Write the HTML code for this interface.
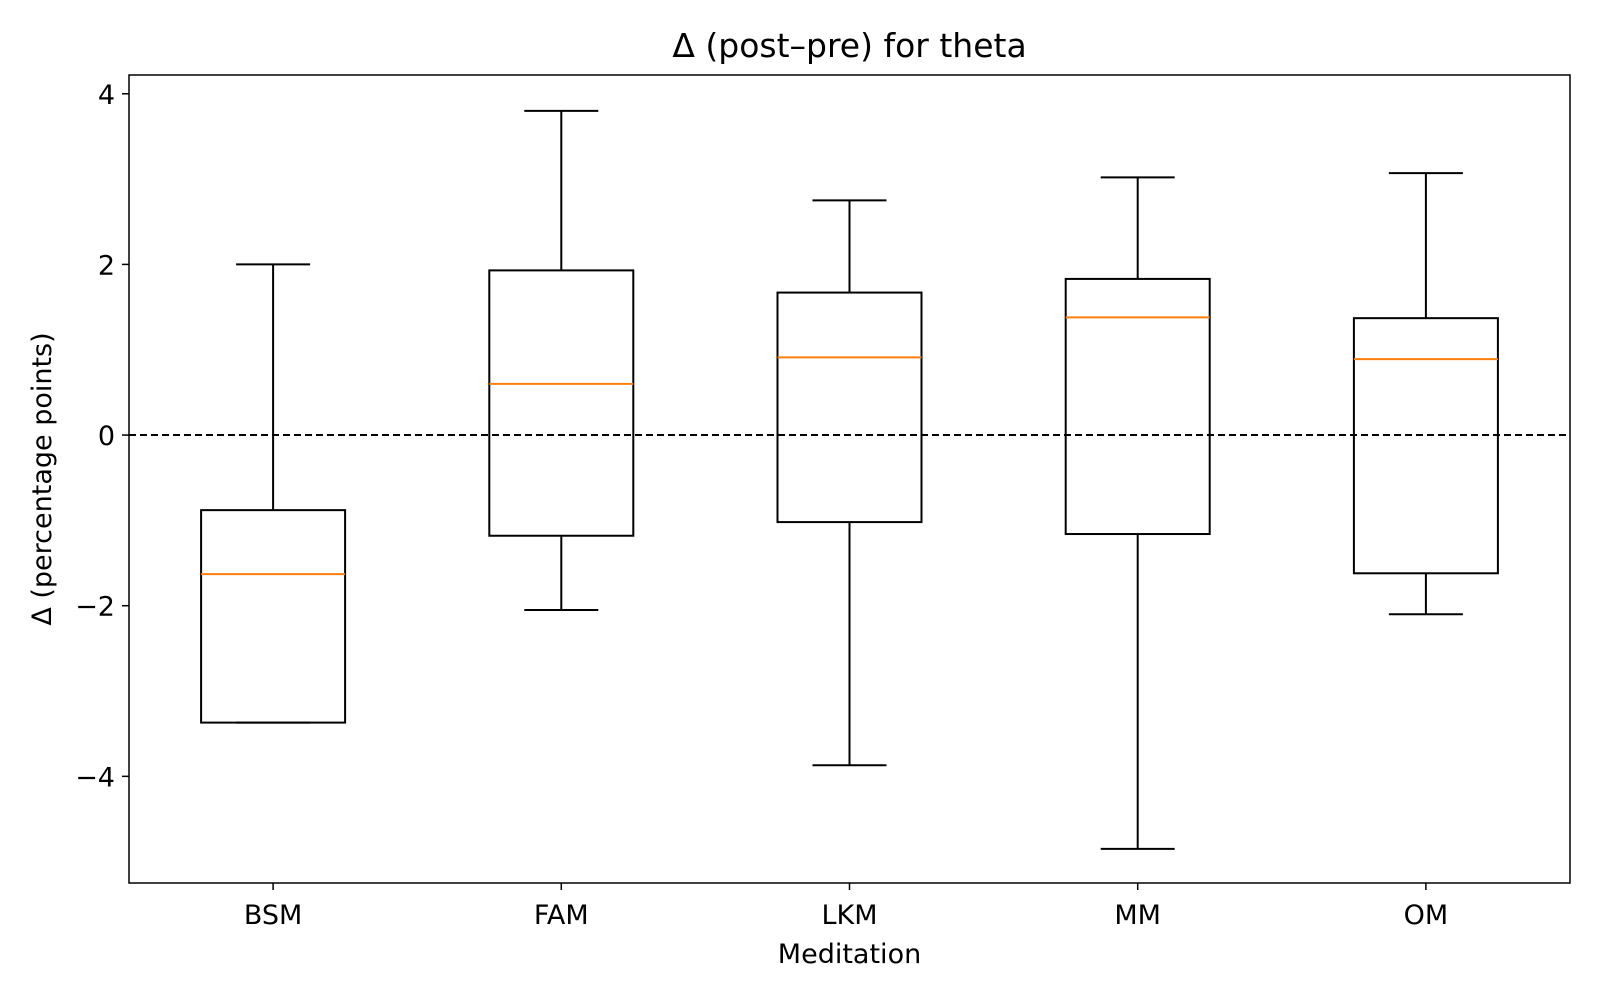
<!DOCTYPE html>
<html><head><meta charset="utf-8"><style>
body{margin:0;background:#fff;}
svg{display:block;font-family:"DejaVu Sans","Liberation Sans",sans-serif;}
</style></head><body>
<svg id="chart" width="1600" height="1000"></svg>
<script>
const categories=["BSM","FAM","LKM","MM","OM"];
const whiskerLow=[-3.37,-2.05,-3.87,-4.85,-2.1];
const q1Values=[-3.37,-1.18,-1.02,-1.16,-1.62];
const medianValues=[-1.63,0.6,0.91,1.38,0.89];
const q3Values=[-0.88,1.93,1.67,1.83,1.37];
const whiskerHigh=[2.0,3.8,2.75,3.02,3.07];
const yTicks=[-4,-2,0,2,4];
const yTickLabels=["\u22124","\u22122","0","2","4"];

const L=129,R=1570,T=75,B=883,yMin=-5.25,yMax=4.22;
const ns="http://www.w3.org/2000/svg";
const svg=document.getElementById('chart');
function y(v){return B-(v-yMin)/(yMax-yMin)*(B-T);}
function x(i){return L+(i+0.5)*(R-L)/categories.length;}
function el(t,a,txt){const e=document.createElementNS(ns,t);for(const k in a)e.setAttribute(k,a[k]);if(txt!==undefined)e.textContent=txt;svg.appendChild(e);return e;}
const bw=144,cw=74;
let z=el('line',{x1:L,x2:R,y1:y(0),y2:y(0),stroke:'#000','stroke-width':2,'stroke-dasharray':'7,4'});


categories.forEach((c,i)=>{
  const cx=x(i);
  const g=[];
  g.push(el('line',{x1:cx,x2:cx,y1:y(whiskerLow[i]),y2:y(q1Values[i]),stroke:'#000','stroke-width':2}));
  g.push(el('line',{x1:cx,x2:cx,y1:y(q3Values[i]),y2:y(whiskerHigh[i]),stroke:'#000','stroke-width':2}));
  g.push(el('line',{x1:cx-cw/2,x2:cx+cw/2,y1:y(whiskerLow[i]),y2:y(whiskerLow[i]),stroke:'#000','stroke-width':2}));
  g.push(el('line',{x1:cx-cw/2,x2:cx+cw/2,y1:y(whiskerHigh[i]),y2:y(whiskerHigh[i]),stroke:'#000','stroke-width':2}));
  const box=el('rect',{x:cx-bw/2,y:y(q3Values[i]),width:bw,height:y(q1Values[i])-y(q3Values[i]),fill:'none',stroke:'#000','stroke-width':2});
  
  
  const m=el('line',{x1:cx-bw/2,x2:cx+bw/2,y1:y(medianValues[i]),y2:y(medianValues[i]),stroke:'#ff7f0e','stroke-width':2});
  
  
  g.forEach(e=>{});
  el('line',{x1:cx,x2:cx,y1:B,y2:B+7,stroke:'#000','stroke-width':1.5});
  const t=el('text',{x:cx,y:B+41,'font-size':27,'text-anchor':'middle'},c);
  
  
});
yTicks.forEach((v,i)=>{
  el('line',{x1:L-7,x2:L,y1:y(v),y2:y(v),stroke:'#000','stroke-width':1.5});
  const t=el('text',{x:L-14,y:y(v)+10,'font-size':27,'text-anchor':'end'},yTickLabels[i]);
  
  
});
const fr=el('rect',{x:L,y:T,width:R-L,height:B-T,fill:'none',stroke:'#000','stroke-width':1.5});


const ti=el('text',{x:(L+R)/2,y:T-18,'font-size':33,'text-anchor':'middle'},'Δ (post–pre) for theta');


const xt=el('text',{x:(L+R)/2,y:B+80,'font-size':27,'text-anchor':'middle'},'Meditation');


const yt=el('text',{x:0,y:0,'font-size':27,'text-anchor':'middle',transform:`translate(51,${(T+B)/2}) rotate(-90)`},'Δ (percentage points)');


</script>
</body></html>
